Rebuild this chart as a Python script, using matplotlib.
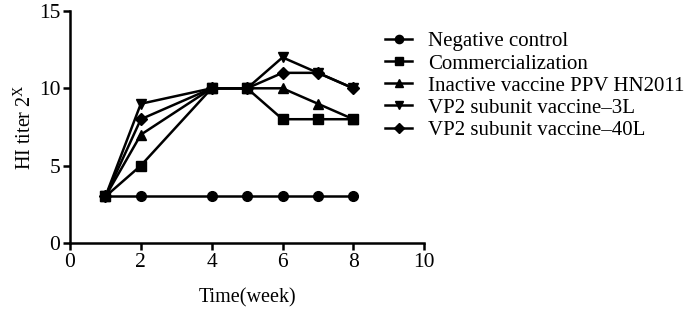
import matplotlib
matplotlib.use("Agg")
import matplotlib.pyplot as plt

plt.rcParams['font.family'] = ['Liberation Serif', 'DejaVu Serif']
plt.rcParams['mathtext.fontset'] = 'custom'
plt.rcParams['mathtext.rm'] = 'Liberation Serif'

weeks = [1, 2, 4, 5, 6, 7, 8]
negative = [3, 3, 3, 3, 3, 3, 3]
commercial = [3, 5, 10, 10, 8, 8, 8]
inactive = [3, 7, 10, 10, 10, 9, 8]
vp2_3l = [3, 9, 10, 10, 12, 11, 10]
vp2_40l = [3, 8, 10, 10, 11, 11, 10]

series = [
    ("Negative control", negative, "o", 7),
    ("Commercialization", commercial, "s", 7),
    ("Inactive vaccine PPV HN2011", inactive, "^", 7),
    ("VP2 subunit vaccine\u20133L", vp2_3l, "v", 7),
    ("VP2 subunit vaccine\u201340L", vp2_40l, "D", 6),
]

fig = plt.figure(figsize=(7, 3.15), dpi=100)
ax = fig.add_axes([0.1, 0.229, 0.506, 0.736])

for name, vals, mk, ms in series:
    ax.plot(weeks, vals, color="black", lw=1.8, marker=mk, markersize=ms, label=name)

ax.set_xlim(0, 10)
ax.set_ylim(0, 15)
ax.set_xticks([0, 2, 4, 6, 8, 10])
ax.set_yticks([0, 5, 10, 15])
for s in ["top", "right"]:
    ax.spines[s].set_visible(False)
for s in ["left", "bottom"]:
    ax.spines[s].set_linewidth(1.8)
ax.tick_params(direction="out", width=1.8, length=5, labelsize=15.5, pad=2)
ax.set_xlabel("Time(week)", fontsize=14.5, labelpad=12)
ax.set_ylabel("HI titer 2$^{\\mathrm{X}}$", fontsize=14.5, labelpad=2)

leg = ax.legend(loc="upper left", bbox_to_anchor=(0.89, 0.91), frameon=False, fontsize=15,
                handlelength=1.3, handletextpad=0.75, labelspacing=0.12, borderaxespad=0,
                borderpad=0, markerscale=0.85)

fig.savefig("out.png", dpi=100)
